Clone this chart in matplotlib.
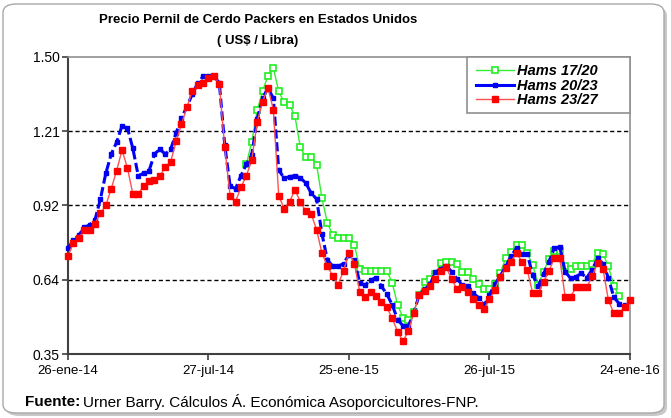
import matplotlib
matplotlib.use("Agg")
import matplotlib.pyplot as plt
import numpy as np
import pandas as pd
from matplotlib.patches import FancyBboxPatch, Rectangle
from matplotlib.lines import Line2D

plt.rcParams['font.family'] = ['Liberation Sans', 'DejaVu Sans']

dates = pd.date_range('2014-01-26', periods=105, freq='7D')

hams_23_27 = [0.73, 0.78, 0.80, 0.83, 0.83, 0.855, 0.895, 0.925, 0.99, 1.06,
              1.14, 1.07, 0.97, 0.97, 1.00, 1.02, 1.025, 1.04, 1.073, 1.094,
              1.173, 1.24, 1.305, 1.368, 1.39, 1.40, 1.418, 1.427, 1.395, 1.152,
              0.962, 0.94, 0.995, 1.04, 1.10, 1.247, 1.326, 1.38, 1.296, 0.962,
              0.913, 0.94, 0.985, 0.94, 0.902, 0.893, 0.831, 0.74, 0.691, 0.651,
              0.619, 0.673, 0.742, 0.70, 0.59, 0.571, 0.591, 0.575, 0.553, 0.531,
              0.488, 0.436, 0.40, 0.44, 0.51, 0.58, 0.595, 0.615, 0.64, 0.67,
              0.685, 0.64, 0.60, 0.608, 0.59, 0.564, 0.54, 0.524, 0.562, 0.598,
              0.65, 0.682, 0.708, 0.74, 0.708, 0.674, 0.585, 0.585, 0.63, 0.672,
              0.721, 0.72, 0.572, 0.572, 0.608, 0.608, 0.608, 0.651, 0.703, 0.68,
              0.559, 0.508, 0.508, 0.531, 0.559]

hams_20_23 = [0.76, 0.79, 0.81, 0.84, 0.85, 0.87, 0.95, 1.05, 1.124, 1.17,
              1.234, 1.225, 1.146, 1.04, 1.05, 1.06, 1.124, 1.143, 1.124, 1.143,
              1.205, 1.263, 1.308, 1.356, 1.399, 1.425, 1.428, 1.425, 1.40, 1.16,
              1.00, 0.99, 1.04, 1.085, 1.12, 1.26, 1.34, 1.38, 1.34, 1.063,
              1.03, 1.037, 1.04, 1.032, 1.012, 0.973, 0.95, 0.815, 0.714, 0.69,
              0.69, 0.70, 0.735, 0.714, 0.625, 0.617, 0.637, 0.645, 0.612, 0.582,
              0.54, 0.483, 0.459, 0.459, 0.51, 0.58, 0.60, 0.62, 0.667, 0.68,
              0.69, 0.669, 0.64, 0.617, 0.615, 0.585, 0.568, 0.538, 0.58, 0.62,
              0.652, 0.69, 0.73, 0.76, 0.737, 0.737, 0.655, 0.613, 0.66, 0.708,
              0.76, 0.765, 0.669, 0.643, 0.65, 0.662, 0.645, 0.677, 0.72, 0.70,
              0.645, 0.57, 0.545, 0.54]

# Hams 17/20 is only visible (not hidden under 20/23) from week 33 onward
hams_17_20_start = 33
hams_17_20 = [1.085, 1.17, 1.293, 1.367, 1.428, 1.457, 1.367,
              1.324, 1.315, 1.27, 1.15, 1.112, 1.112, 1.083, 0.953, 0.857, 0.811,
              0.80, 0.80, 0.80, 0.772, 0.68, 0.672, 0.672, 0.672, 0.672, 0.672,
              0.625, 0.54, 0.49, 0.48, 0.512, 0.58, 0.63, 0.64, 0.66, 0.703,
              0.706, 0.706, 0.70, 0.669, 0.669, 0.64, 0.62, 0.60, 0.60, 0.62,
              0.665, 0.72, 0.745, 0.772, 0.772, 0.74, 0.695, 0.617, 0.669, 0.717,
              0.75, 0.75, 0.69, 0.68, 0.69, 0.69, 0.69, 0.70, 0.742, 0.738,
              0.69, 0.615, 0.575]

y_ticks = [0.35, 0.6375, 0.925, 1.2125, 1.50]
y_labels = ['0.35', '0.64', '0.92', '1.21', '1.50']
x_tick_dates = ['2014-01-26', '2014-07-27', '2015-01-25', '2015-07-26', '2016-01-24']
x_labels = ['26-ene-14', '27-jul-14', '25-ene-15', '26-jul-15', '24-ene-16']

W, H = 671, 418
fig = plt.figure(figsize=(W / 100, H / 100), dpi=100)

# shadow + outer rounded frame
shadow = FancyBboxPatch((6 / W, 2 / H), (W - 10) / W, (H - 9) / H,
                        boxstyle="round,pad=0,rounding_size=0.02",
                        transform=fig.transFigure, facecolor='#c8c8c8',
                        edgecolor='none', zorder=-11)
fig.patches.append(shadow)
frame = FancyBboxPatch((3 / W, 5 / H), (W - 10) / W, (H - 9) / H,
                       boxstyle="round,pad=0,rounding_size=0.02",
                       transform=fig.transFigure, facecolor='white',
                       edgecolor='#a8a8a8', linewidth=1.0, zorder=-10)
fig.patches.append(frame)

ax = fig.add_axes([68 / W, 1 - 354 / H, (630 - 68) / W, (354 - 57) / H])
ax.set_facecolor('none')

ax.plot(dates[hams_17_20_start:hams_17_20_start + len(hams_17_20)], hams_17_20,
        color='#33ee33', lw=1.0, marker='s', markersize=5,
        markerfacecolor='white', markeredgecolor='#22ee22',
        markeredgewidth=1.2, zorder=3, clip_on=False)
ax.plot(dates[:len(hams_20_23)], hams_20_23, color='#0000ff', lw=2.2,
        linestyle=(0, (3, 1.2)), marker='s', markersize=3.0,
        markerfacecolor='#0000ee', markeredgecolor='#0000ee',
        zorder=4, clip_on=False)
ax.plot(dates[:len(hams_23_27)], hams_23_27, color='#ff5050', lw=1.0, marker='s',
        markersize=5, markerfacecolor='#ff0000', markeredgecolor='#ff0000',
        zorder=5, clip_on=False)

ax.set_xlim(dates[0], dates[104])
ax.set_ylim(0.35, 1.50)
ax.set_yticks(y_ticks)
ax.set_yticklabels(y_labels)
ax.set_xticks(pd.to_datetime(x_tick_dates))
ax.set_xticklabels(x_labels)

for yv in y_ticks[1:-1]:
    ax.axhline(yv, color='black', lw=1.0, linestyle=(0, (3, 2)), zorder=1)

for s in ['left', 'bottom']:
    ax.spines[s].set_color('#404040')
    ax.spines[s].set_linewidth(1.5)
for s in ['top', 'right']:
    ax.spines[s].set_color('#909090')
    ax.spines[s].set_linewidth(1.2)

ax.tick_params(axis='both', direction='out', length=4, width=1.2, color='#404040',
               labelsize=9.5, pad=2)
ax.tick_params(axis='y', labelsize=10)
ax.tick_params(axis='x', pad=4)

fig.text(258 / W, 1 - 20 / H, 'Precio Pernil de Cerdo Packers en Estados Unidos',
         ha='center', va='center', fontsize=9.5, fontweight='bold')
fig.text(258 / W, 1 - 41 / H, '( US$ / Libra)', ha='center', va='center',
         fontsize=9.5, fontweight='bold')

t1 = fig.text(25 / W, 1 - 402 / H, 'Fuente:', ha='left', va='center', fontsize=11,
              fontweight='bold')
fig.canvas.draw()
bb = t1.get_window_extent()
fig.text((bb.x1 + 3) / W, 1 - 402 / H,
         'Urner Barry. Cálculos Á. Económica Asoporcicultores-FNP.',
         ha='left', va='center', fontsize=11)

# legend box
to_ax = lambda px, py: ((px - 68) / (630 - 68), (354 - py) / (354 - 57))
lx0, ly0 = to_ax(467, 113)
lx1, ly1 = to_ax(630, 57)
ax.add_patch(Rectangle((lx0, ly0), lx1 - lx0, ly1 - ly0, transform=ax.transAxes,
                       facecolor='white', edgecolor='#909090', lw=1.2,
                       zorder=9, clip_on=False))

handles = [
    Line2D([], [], color='#33ee33', lw=1.0, marker='s', markersize=5,
           markerfacecolor='white', markeredgecolor='#22ee22', markeredgewidth=1.2),
    Line2D([], [], color='#0000ff', lw=2.2, marker='s', markersize=3.0,
           markerfacecolor='#0000ee', markeredgecolor='#0000ee'),
    Line2D([], [], color='#ff5050', lw=1.0, marker='s', markersize=5,
           markerfacecolor='#ff0000', markeredgecolor='#ff0000'),
]
leg = ax.legend(handles, ['Hams 17/20', 'Hams 20/23', 'Hams 23/27'],
                loc='upper left', bbox_to_anchor=to_ax(476, 64),
                prop={'weight': 'bold', 'style': 'italic', 'size': 10.5},
                frameon=False, handlelength=2.6, handletextpad=0.2,
                labelspacing=0.05, borderpad=0, borderaxespad=0)
leg.set_zorder(10)

fig.savefig('out.png', dpi=100)
